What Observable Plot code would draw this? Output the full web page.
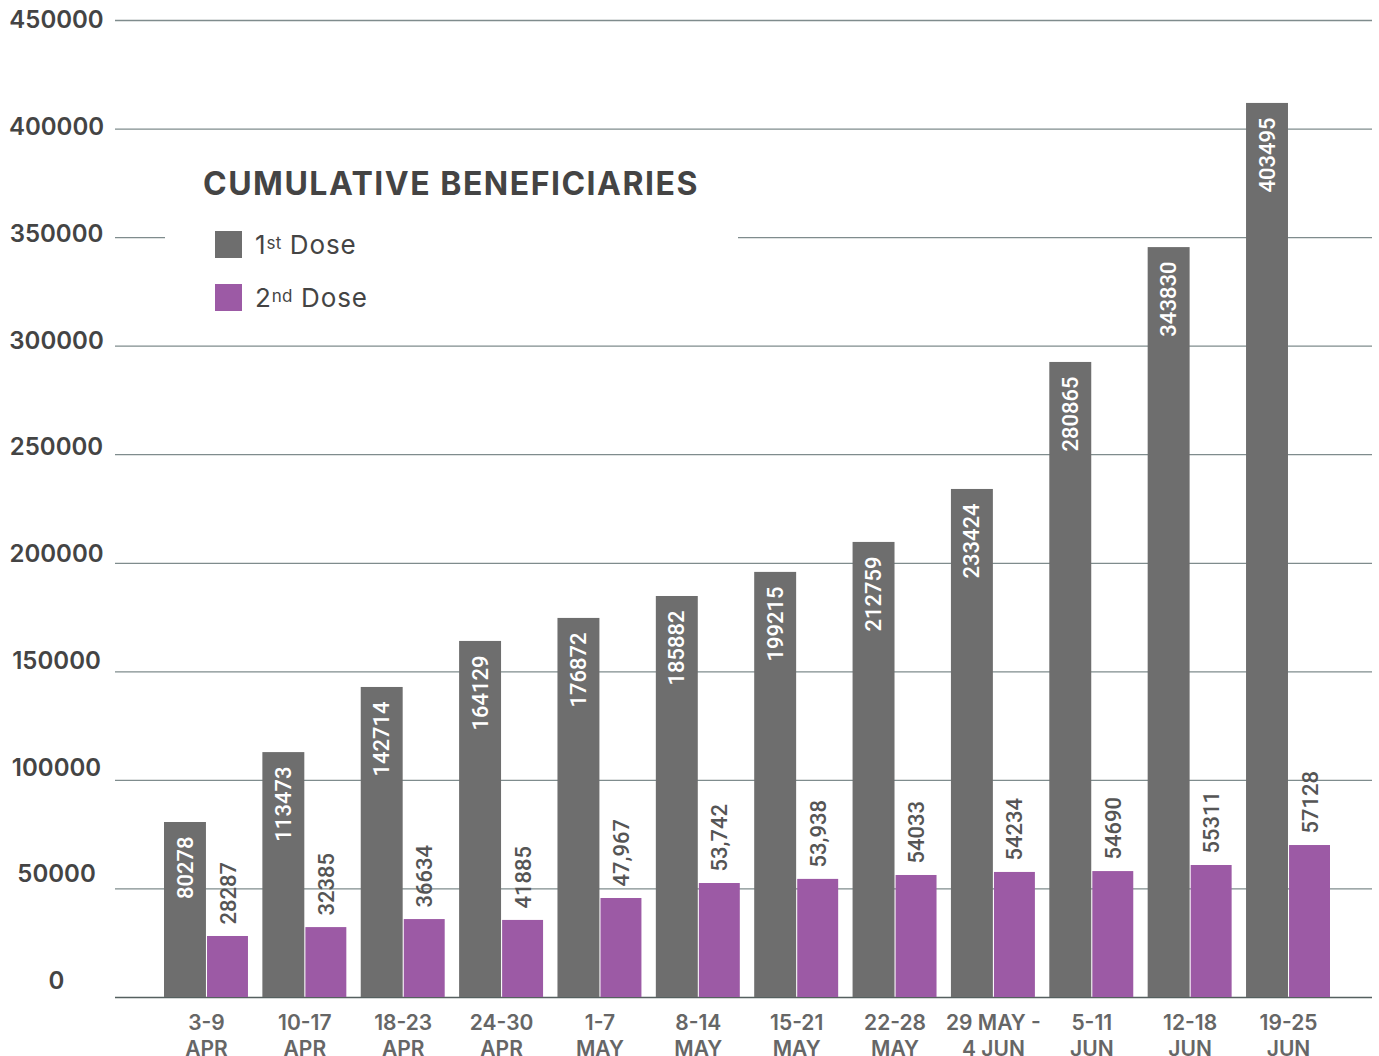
<!DOCTYPE html>
<html>
<head>
<meta charset="utf-8">
<script src="https://cdn.jsdelivr.net/npm/d3@7"></script>
<script src="https://cdn.jsdelivr.net/npm/@observablehq/plot@0.6"></script>
<style>
  html, body { margin: 0; padding: 0; background: #fff; overflow: hidden; }
  #wrap { position: relative; width: 1379px; height: 1056px; overflow: hidden; }
  #legend { position: absolute; left: 165px; top: 142px; width: 573px; height: 185px; background: #fff; }
  #title { position: absolute; left: 38px; top: 26px; font: 700 32px Inter, sans-serif; letter-spacing: 1.5px; color: #444; white-space: nowrap; line-height: 1; }
  .item { position: absolute; left: 50px; height: 27px; display: flex; align-items: center; font: 400 26px Inter, sans-serif; letter-spacing: 0.9px; color: #444; white-space: nowrap; }
  .sw { width: 27px; height: 27px; margin-right: 13px; flex: none; }
  .item sup { font-size: 17px; position: relative; top: -2px; vertical-align: super; line-height: 0; letter-spacing: 0.3px; }
</style>
</head>
<body>
<div id="wrap">
  <div id="chart"></div>
  <div id="legend">
    <div id="title">CUMULATIVE BENEFICIARIES</div>
    <div class="item" style="top:89px"><span class="sw" style="background:#6e6e6e"></span>1<sup>st</sup>&nbsp;Dose</div>
    <div class="item" style="top:142px"><span class="sw" style="background:#9c5aa5"></span>2<sup>nd</sup>&nbsp;Dose</div>
  </div>
</div>
<script>
const weeks = ["3-9\nAPR", "10-17\nAPR", "18-23\nAPR", "24-30\nAPR", "1-7\nMAY", "8-14\nMAY",
  "15-21\nMAY", "22-28\nMAY", "29 MAY -\n4 JUN", "5-11\nJUN", "12-18\nJUN", "19-25\nJUN"];
// bar heights as drawn in the picture
const dose1Heights = [80600, 112800, 142800, 164000, 174600, 184700, 195800, 209600, 234000, 292500, 345400, 411800];
const dose2Heights = [28100, 32200, 35900, 35500, 45600, 52500, 54400, 56200, 57600, 58000, 60800, 70000];
// value labels as printed
const dose1Labels = ["80278", "113473", "142714", "164129", "176872", "185882", "199215", "212759", "233424", "280865", "343830", "403495"];
const dose2Labels = ["28287", "32385", "36634", "41885", "47,967", "53,742", "53,938", "54033", "54234", "54690", "55311", "57128"];
const yTicks = [0, 50000, 100000, 150000, 200000, 250000, 300000, 350000, 400000, 450000];

const d1 = weeks.map((w, i) => ({week: w, value: dose1Heights[i], label: dose1Labels[i]}));
const d2 = weeks.map((w, i) => ({week: w, value: dose2Heights[i], label: dose2Labels[i]}));

const GRAY = "#6e6e6e", PURPLE = "#9c5aa5";

const chart = Plot.plot({
  width: 1379,
  height: 1075,
  marginLeft: 115,
  marginRight: 7,
  marginTop: 20,
  marginBottom: 78,
  style: {background: "transparent"},
  x: {type: "band", domain: weeks, range: [164, 1330], paddingInner: 0.1464, paddingOuter: 0, round: false, axis: null},
  y: {domain: [0, 450000], axis: null},
  marks: [
    Plot.gridY(yTicks.filter(d => d > 0), {stroke: "#7f8c8d", strokeOpacity: 1, strokeWidth: 1.3}),
    Plot.ruleY([0], {stroke: "#55605f", strokeWidth: 1.5}),
    Plot.barY(d1, {x: "week", y: "value", fill: GRAY, insetRight: 42.02}),
    Plot.barY(d2, {x: "week", y: "value", fill: PURPLE, insetLeft: 43.02}),
    Plot.text(d1, {x: "week", y: "value", text: "label", rotate: -90, textAnchor: "end", lineAnchor: "middle",
      dx: -21, dy: 14, fill: "#ffffff", fontSize: 22, fontFamily: "Roboto, sans-serif", fontWeight: 500}),
    Plot.text(d2, {x: "week", y: "value", text: "label", rotate: -90, textAnchor: "start", lineAnchor: "middle",
      dx: 22, dy: -12, fill: "#555555", fontSize: 22, fontFamily: "Roboto, sans-serif", fontWeight: 500}),
    Plot.text(yTicks, {y: d => d + (450000 - d) * 0.0164, text: d => String(d), frameAnchor: "left",
      dx: -59, textAnchor: "middle", fill: "#444444", fontSize: 24, fontFamily: "Inter, sans-serif", fontWeight: 600}),
    Plot.axisX({tickSize: 0, tickPadding: 15, fontSize: 21, lineHeight: 1.2, fill: "#666666",
      fontFamily: "Inter, sans-serif", fontWeight: 600, label: null})
  ]
});
document.getElementById("chart").appendChild(chart);
</script>
</body>
</html>
